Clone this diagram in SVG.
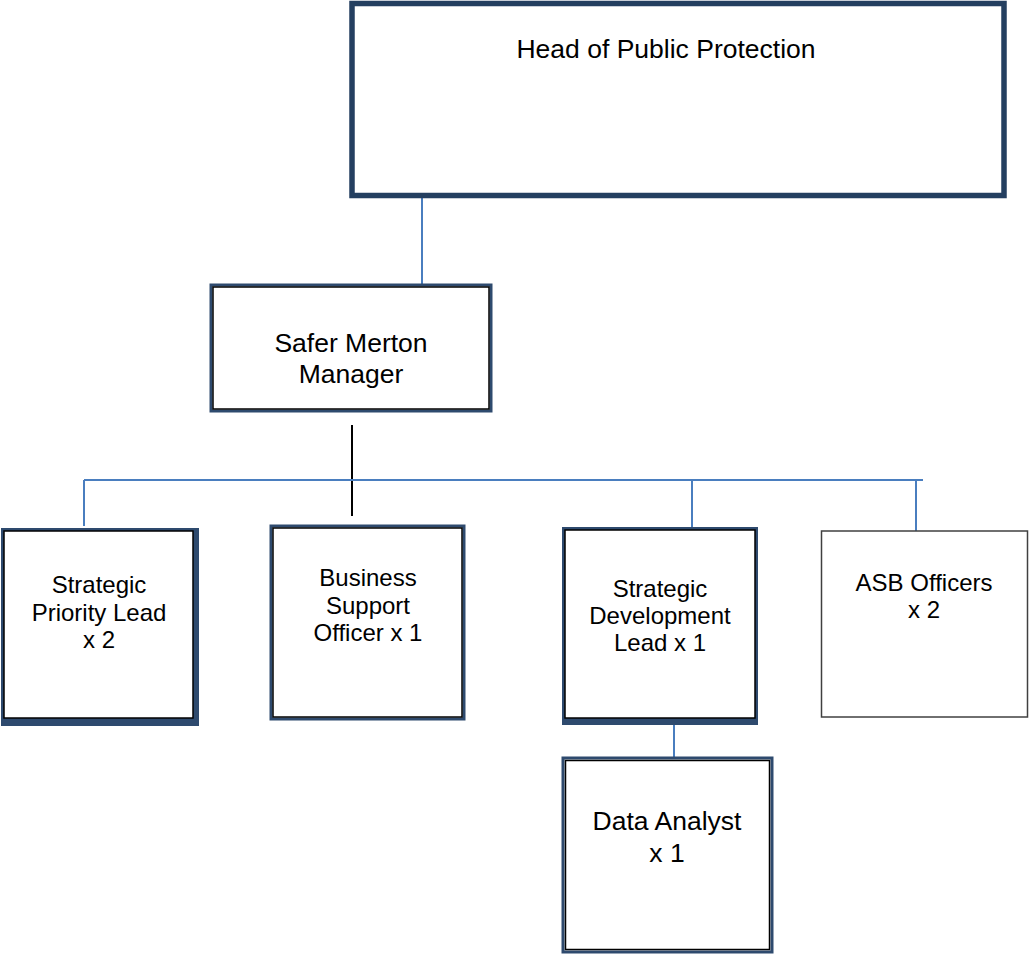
<svg xmlns="http://www.w3.org/2000/svg" width="1029" height="954" viewBox="0 0 1029 954">
<style>
text{font-family:"Liberation Sans",Arial,sans-serif;fill:#000;text-anchor:middle}
.big{font-size:26.5px}
.sm{font-size:24px}
.navy{fill:none;stroke:#2E4A6E;stroke-width:3}
.inner{fill:#fff;stroke:#000;stroke-width:1.5}
.shadow{fill:#2E4A6E}
.blue{stroke:#4A7EBF;stroke-width:2;fill:none}
</style>
<rect width="1029" height="954" fill="#fff"/>
<g id="connectors">
<line class="blue" x1="422" y1="196" x2="422" y2="285"/>
<line x1="352" y1="425" x2="352" y2="516" stroke="#000" stroke-width="2"/>
<line class="blue" x1="84" y1="480" x2="923" y2="480"/>
<line class="blue" x1="84" y1="480" x2="84" y2="526"/>
<line class="blue" x1="692" y1="480" x2="692" y2="528"/>
<line class="blue" x1="916" y1="480" x2="916" y2="531"/>
<line class="blue" x1="674" y1="724" x2="674" y2="758"/>
</g>
<g id="head">
<rect x="352" y="3.5" width="652" height="192" fill="#fff" stroke="#243F60" stroke-width="5.5"/>
<text class="big" x="666" y="58">Head of Public Protection</text>
</g>
<g id="safer-merton">
<rect class="navy" x="211" y="285" width="280" height="126"/>
<rect class="inner" x="213" y="287" width="276" height="122"/>
<text class="big" x="351" y="352">Safer Merton</text>
<text class="big" x="351" y="383">Manager</text>
</g>
<g id="strategic-priority">
<rect class="shadow" x="1" y="528" width="198" height="198"/>
<rect class="inner" x="4" y="531" width="189" height="187"/>
<text class="sm" x="99" y="593">Strategic</text>
<text class="sm" x="99" y="621">Priority Lead</text>
<text class="sm" x="99" y="648">x 2</text>
</g>
<g id="business-support">
<rect class="navy" x="271" y="526" width="193" height="193"/>
<rect class="inner" x="273" y="528" width="189" height="189"/>
<text class="sm" x="368" y="586">Business</text>
<text class="sm" x="368" y="614">Support</text>
<text class="sm" x="368" y="641">Officer x 1</text>
</g>
<g id="strategic-development">
<rect class="shadow" x="562" y="527" width="196" height="198"/>
<rect class="inner" x="565" y="530" width="190" height="188"/>
<text class="sm" x="660" y="597">Strategic</text>
<text class="sm" x="660" y="624">Development</text>
<text class="sm" x="660" y="651">Lead x 1</text>
</g>
<g id="asb-officers">
<rect x="821.5" y="531" width="206" height="186" fill="#fff" stroke="#404040" stroke-width="1.5"/>
<text class="sm" x="924" y="591">ASB Officers</text>
<text class="sm" x="924" y="618">x 2</text>
</g>
<g id="data-analyst">
<rect class="navy" x="563" y="758" width="209" height="194"/>
<rect class="inner" x="565.5" y="760.5" width="204" height="189"/>
<text class="big" x="667" y="830">Data Analyst</text>
<text class="big" x="667" y="862">x 1</text>
</g>
</svg>
